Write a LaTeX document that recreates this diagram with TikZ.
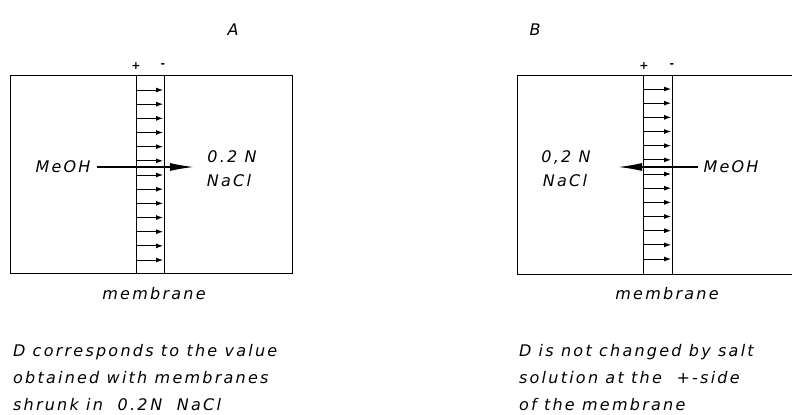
\documentclass[tikz,border=0pt]{standalone}
\usepackage{fontspec}
\setmainfont{DejaVu Sans}[LetterSpace=14]
\usepackage{tikz}
\usetikzlibrary{arrows.meta}

\tikzset{
	lbl/.style = {font = \itshape\fontsize{16}{18}\selectfont, inner sep = 0pt},
	sgn/.style = {font = \bfseries\fontsize{11}{11}\selectfont, inner sep = 0pt},
	note/.style = {font = \itshape\fontsize{16}{27}\selectfont, inner sep = 0pt, align = left, anchor = north west},
	ion/.style = {-{Latex[length = 7pt, width = 5pt]}, line width = 0.9pt},
	flow/.style = {-{Latex[length = 24pt, width = 8pt]}, line width = 1.5pt}
}

\begin{document}
\begin{tikzpicture}[x = 1pt, y = -1pt]
		\useasboundingbox (0,0) rectangle (793,415);
		\tikzset{line width = 2.2pt}
		% panel A
		\node[lbl] (A) at (233,30) {A};
		\draw (10,75) rectangle (292,273);
		\draw (136,75) -- (136,273);
		\draw (164,75) -- (164,273);
		\node[sgn] (plusA) at (136,66) {+};
		\node[sgn] (minusA) at (163,66) {-};
		\foreach \y in {0,...,12}
			\draw[ion] (136,90+14.17*\y) -- (163,90+14.17*\y);
		\node[lbl] (meohA) at (63,167) {MeOH};
		\coordinate (tipA) at (194,167);
		\draw[flow] (meohA.east) ++(5,0) -- (tipA);
		\node[lbl] (nA) at (232,157) {0.2 N};
		\node[lbl] (saltA) at (229,181) {NaCl};
		\node[lbl] (memA) at (154,294) {membrane};
		\node[note] (textA) at (12,343) {D corresponds to the value\\obtained with membranes\\shrunk in\ \ 0.2\,N\ \ NaCl};
		% panel B
		\node[lbl] (B) at (535,30) {B};
		\draw (517,75) -- (792,75);
		\draw (517,274) -- (792,274);
		\draw (517,75) -- (517,274);
		\draw (643,75) -- (643,274);
		\draw (672,75) -- (672,274);
		\node[sgn] (plusB) at (644,66) {+};
		\node[sgn] (minusB) at (672,66) {-};
		\foreach \y in {0,...,12}
			\draw[ion] (643,89+14.17*\y) -- (671,89+14.17*\y);
		\node[lbl] (meohB) at (731,167) {MeOH};
		\coordinate (tipB) at (618,167);
		\draw[flow] (meohB.west) ++(-4,0) -- (tipB);
		\node[lbl] (nB) at (566,157) {0,2 N};
		\node[lbl] (saltB) at (565,181) {NaCl};
		\node[lbl] (memB) at (667,294) {membrane};
		\node[note] (textB) at (518,343) {D is not changed by salt\\solution at the\ \ +-side\\of the membrane};
	\end{tikzpicture}
\end{document}
